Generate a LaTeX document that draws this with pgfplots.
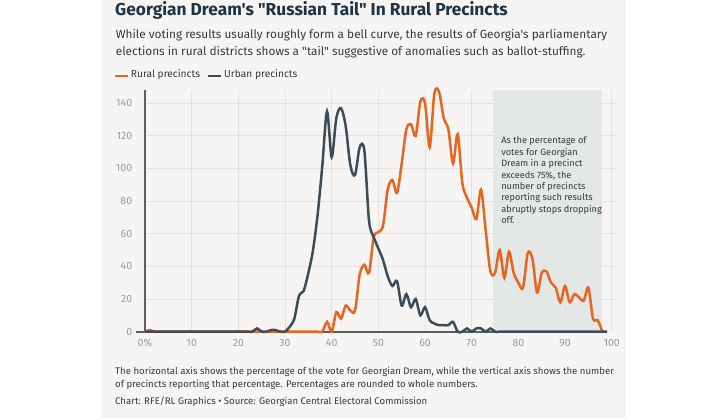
\documentclass[border=0pt]{standalone}
\usepackage{fontspec}
\setmainfont{Fira Sans}[Ligatures=TeXOff]
\usepackage{pgfplots}
\pgfplotsset{compat=1.18}
\definecolor{panel}{HTML}{F6F5F3}
\definecolor{shadec}{HTML}{E3E8E6}
\definecolor{gridc}{HTML}{E2E2E0}
\definecolor{rural}{HTML}{E8651F}
\definecolor{urban}{HTML}{3C4D57}
\definecolor{titlec}{HTML}{1E3444}
\definecolor{textc}{HTML}{333B40}
\definecolor{tickc}{HTML}{9A9A9A}
\definecolor{axisc}{HTML}{5A5F62}
\begin{document}
\begin{tikzpicture}[x=1pt,y=1pt]
\path[use as bounding box] (0,0) rectangle (713,420);
\fill[white] (0,0) rectangle (713,420);
\fill[panel] (101,2) rectangle (626,420);
% title and subtitle
\node[anchor=base west,inner sep=0,text=titlec,font=\fontsize{17.3}{20}\selectfont\bfseries] at (115,404.7) {Georgian Dream's "Russian Tail" In Rural Precincts};
\node[anchor=base west,inner sep=0,text=textc,font=\fontsize{11.8}{16}\selectfont] at (115.7,381.5) {While voting results usually roughly form a bell curve, the results of Georgia's parliamentary};
\node[anchor=base west,inner sep=0,text=textc,font=\fontsize{11.8}{16}\selectfont] at (115.7,364.8) {elections in rural districts shows a "tail" suggestive of anomalies such as ballot-stuffing.};
% legend
\draw[rural,line width=2.5pt] (115,344) -- (128,344);
\node[anchor=base west,inner sep=0,text=textc,font=\fontsize{10.2}{12}\selectfont] at (130.7,342.7) {Rural precincts};
\draw[urban,line width=2.5pt] (208,344) -- (221,344);
\node[anchor=base west,inner sep=0,text=textc,font=\fontsize{10.2}{12}\selectfont] at (224,342.7) {Urban precincts};
% footnotes
\node[anchor=base west,inner sep=0,text=textc,font=\fontsize{9.6}{12}\selectfont] at (115,45) {The horizontal axis shows the percentage of the vote for Georgian Dream, while the vertical axis shows the number};
\node[anchor=base west,inner sep=0,text=textc,font=\fontsize{9.6}{12}\selectfont] at (115,32.3) {of precincts reporting that percentage. Percentages are rounded to whole numbers.};
\node[anchor=base west,inner sep=0,text=textc,font=\fontsize{9.6}{12}\selectfont] at (115,15.7) {Chart: RFE/RL Graphics \textbullet{} Source: Georgian Central Electoral Commission};
\begin{axis}[
  at={(135.67pt,85.04pt)}, anchor=south west,
  scale only axis, width=480.7pt, height=244.8pt,
  xmin=-2, xmax=101, ymin=-2, ymax=148,
  clip=false,
  xtick={0,10,...,100}, ytick={0,20,...,140},
  xticklabels={0\%,10,20,30,40,50,60,70,80,90,100},
  tick style={draw=none},
  /pgf/number format/assume math mode=true,
  ticklabel style={text=tickc,font=\fontsize{10.5}{12}\selectfont},
  xticklabel style={yshift=-1pt},
  axis line style={draw=none},
]
\fill[shadec] (axis cs:74.5,0) rectangle (axis cs:98,148);
\pgfplotsinvokeforeach{10,20,...,100}{\draw[gridc,line width=0.8pt] (axis cs:#1,0) -- (axis cs:#1,148);}
\pgfplotsinvokeforeach{20,40,...,140}{\draw[gridc,line width=0.8pt] (axis cs:0,#1) -- (axis cs:101,#1);}
\draw[axisc,line width=1.3pt] (axis cs:0,0) -- (axis cs:0,148);
\draw[axisc,line width=2pt] (axis cs:-2,0) -- (axis cs:99,0);
\node[anchor=north west,inner sep=0,align=left,text=textc,font=\fontsize{9.2}{11.43}\selectfont] at (axis cs:76.3,119.5) {As the percentage of\\votes for Georgian\\Dream in a precinct\\exceeds 75\%, the\\number of precincts\\reporting such results\\abruptly stops dropping\\off.};
\addplot[rural,line width=2.5pt,smooth,tension=0.5] coordinates {
(0,0)(1,1)(2,0)(3,0)(4,0)(5,0)(6,0)(7,0)(8,0)(9,0)(10,0)(11,0)(12,0)(13,0)(14,0)(15,0)(16,0)(17,0)(18,0)(19,0)
(20,0)(21,0)(22,0)(23,0)(24,0)(25,0)(26,0)(27,0)(28,0)(29,0)(30,0)(31,0)(32,0)(33,0)(34,0)(35,0)(36,0)(37,0)(38,0)(39,6)
(40,0)(41,12)(42,8)(43,16)(44,13)(45,13)(46,35)(47,41)(48,36)(49,58)
(50,61)(51,65)(52,87)(53,93)(54,85)(55,103)(56,124)(57,127)(58,120)(59,141)
(60,140)(61,113)(62,146)(63,147)(64,131)(65,124)(66,103)(67,121)(68,91)(69,82)
(70,76)(71,69)(72,87)(73,62)(74,37)(75,36)(76,50)(77,33)(78,49)(79,36)
(80,30)(81,27)(82,48)(83,45)(84,24)(85,36)(86,37)(87,30)(88,27)(89,18)
(90,28)(91,18)(92,23)(93,21)(94,19)(95,27)(96,8)(97,7)(98,0)
};
\addplot[urban,line width=2.5pt,smooth,tension=0.5] coordinates {
(0,0)(1,0)(2,0)(3,0)(4,0)(5,0)(6,0)(7,0)(8,0)(9,0)(10,0)(11,0)(12,0)(13,0)(14,0)(15,0)(16,0)(17,0)(18,0)(19,0)
(20,0)(21,0)(22,0)(23,0)(24,2)(25,0)(26,0)(27,1)(28,1)(29,0)
(30,0)(31,3)(32,8)(33,22)(34,25)(35,36)(36,50)(37,72)(38,102)(39,135)
(40,107)(41,131)(42,137)(43,126)(44,102)(45,96)(46,113)(47,111)(48,68)(49,58)
(50,51)(51,44)(52,34)(53,28)(54,31)(55,16)(56,23)(57,15)(58,20)(59,10)
(60,15)(61,7)(62,5)(63,4)(64,4)(65,4)(66,6)(67,0)(68,0)(69,2)
(70,0)(71,2)(72,2)(73,0)(74,2)(75,0)(76,0)(77,0)(78,0)(79,0)
(80,0)(81,0)(82,0)(83,0)(84,0)(85,0)(86,0)(87,0)(88,0)(89,0)
(90,0)(91,0)(92,0)(93,0)(94,0)(95,0)(96,0)(97,0)(98,0)(99,0)
};
\end{axis}
\end{tikzpicture}
\end{document}
